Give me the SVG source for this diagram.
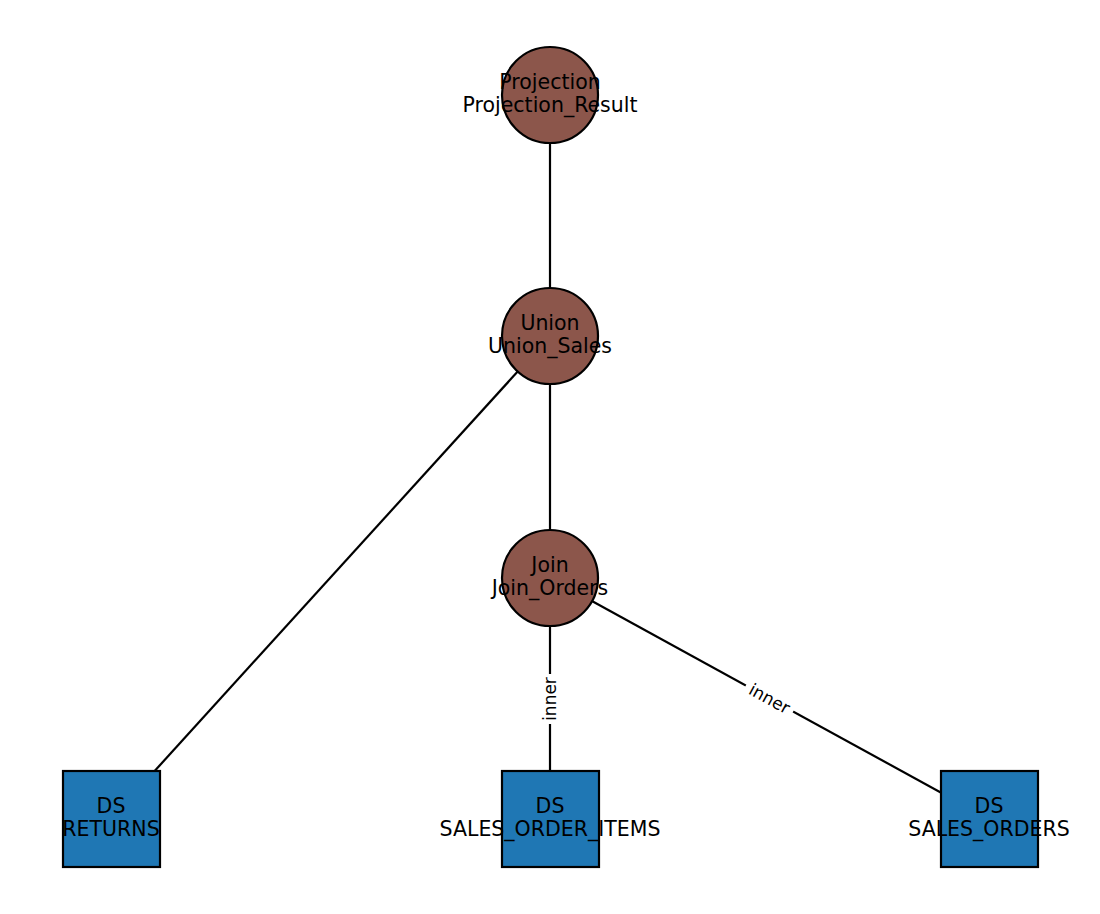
<svg xmlns="http://www.w3.org/2000/svg" width="1100" height="914" viewBox="0 0 1100 914">
<style>
.edge{stroke:#000;stroke-width:2.2;fill:none}
.op{fill:#8c564b;stroke:#000;stroke-width:2.2}
.ds{fill:#1f77b4;stroke:#000;stroke-width:2.2}
.t{font-family:"DejaVu Sans",sans-serif;font-size:20.5px;fill:#000;text-anchor:middle}
.el{font-family:"DejaVu Sans",sans-serif;font-size:17px;fill:#000;text-anchor:middle;dominant-baseline:central}
.bg{fill:#fff}
</style>
<rect width="1100" height="914" fill="#fff"/>
<g id="connectors">
<line class="edge" x1="550" y1="95" x2="550" y2="336"/>
<line class="edge" x1="550" y1="336" x2="550" y2="578"/>
<line class="edge" x1="550" y1="336" x2="111" y2="819"/>
<line class="edge" x1="550" y1="578" x2="550" y2="819"/>
<line class="edge" x1="550" y1="578" x2="989" y2="819"/>
<g transform="translate(550,699) rotate(-90)">
<rect class="bg" x="-25" y="-11" width="50" height="22"/>
<text class="el" x="0" y="0">inner</text>
</g>
<g transform="translate(769.5,698.5) rotate(28.77)">
<rect class="bg" x="-27" y="-11" width="54" height="22"/>
<text class="el" x="0" y="0">inner</text>
</g>
</g>
<g id="projection">
<circle class="op" cx="550" cy="95" r="48"/>
<text class="t" x="550" y="89">Projection</text>
<text class="t" x="550" y="112">Projection_Result</text>
</g>
<g id="union">
<circle class="op" cx="550" cy="336" r="48"/>
<text class="t" x="550" y="330">Union</text>
<text class="t" x="550" y="353">Union_Sales</text>
</g>
<g id="join">
<circle class="op" cx="550" cy="578" r="48"/>
<text class="t" x="550" y="572">Join</text>
<text class="t" x="550" y="595">Join_Orders</text>
</g>
<g id="ds_returns">
<rect class="ds" x="63" y="771" width="97" height="96"/>
<text class="t" x="111" y="813">DS</text>
<text class="t" x="111" y="836">RETURNS</text>
</g>
<g id="ds_sales_order_items">
<rect class="ds" x="502" y="771" width="97" height="96"/>
<text class="t" x="550" y="813">DS</text>
<text class="t" x="550" y="836">SALES_ORDER_ITEMS</text>
</g>
<g id="ds_sales_orders">
<rect class="ds" x="941" y="771" width="97" height="96"/>
<text class="t" x="989" y="813">DS</text>
<text class="t" x="989" y="836">SALES_ORDERS</text>
</g>
</svg>
